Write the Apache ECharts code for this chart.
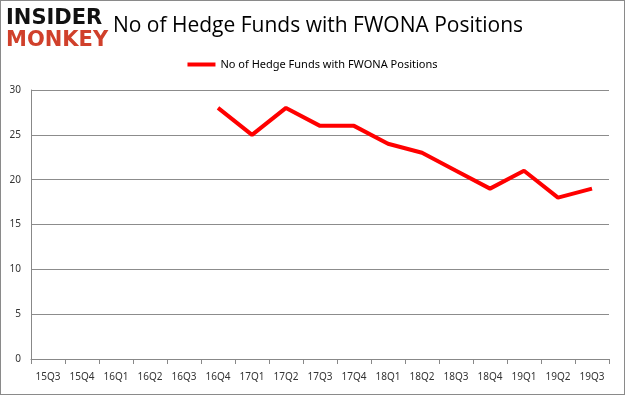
<!DOCTYPE html>
<html><head><meta charset="utf-8">
<script src="https://cdn.jsdelivr.net/npm/echarts@6/dist/echarts.min.js"></script>
<style>html,body{margin:0;padding:0;background:#fff}#c{width:625px;height:395px;box-sizing:border-box;border:1px solid #8a8a8a}</style>
</head><body><div id="c"></div>
<script>
const categories = ['15Q3','15Q4','16Q1','16Q2','16Q3','16Q4','17Q1','17Q2','17Q3','17Q4','18Q1','18Q2','18Q3','18Q4','19Q1','19Q2','19Q3'];
const hedgeFunds = [null,null,null,null,null,28,25,28,26,26,24,23,21,19,21,18,19];
const seriesName = 'No of Hedge Funds with FWONA Positions';
const titleText = 'No of Hedge Funds with FWONA Positions';

const chart = echarts.init(document.getElementById('c'), null, {renderer:'canvas'});
chart.setOption({
  animation:false,
  backgroundColor:'#fff',
  title:{text:titleText,left:312,top:10,textAlign:'center',z:1,
    textStyle:{fontFamily:'Open Sans',fontWeight:'normal',fontSize:21,color:'#000'}},
  legend:{top:53,left:'center',itemWidth:28,itemHeight:4,icon:'rect',
    textStyle:{fontFamily:'Noto Sans',fontSize:11,color:'#000'},
    data:[seriesName]},
  graphic:[
    {type:'rect',left:4,top:6,z:9,shape:{width:104,height:46},style:{fill:'#fff'}},
    {type:'text',left:5,top:7,z:10,style:{text:'INSIDER',font:'900 21px "DejaVu Sans"',fill:'#111'}},
    {type:'text',left:5,top:29,z:10,style:{text:'MONKEY',font:'900 21px "DejaVu Sans"',fill:'#d0402b'}}
  ],
  grid:{left:30,right:15,top:89,bottom:35,containLabel:false},
  xAxis:{type:'category',data:categories,boundaryGap:true,
    axisLine:{lineStyle:{color:'#888'}},
    axisTick:{show:true,alignWithLabel:false,lineStyle:{color:'#888'}},
    axisLabel:{fontFamily:'Noto Sans',fontSize:10,color:'#333',margin:13,interval:0}},
  yAxis:{type:'value',min:0,max:30,interval:5,
    axisLine:{show:true,lineStyle:{color:'#888'}},
    axisTick:{show:false},
    axisLabel:{fontFamily:'Noto Sans',fontSize:10,color:'#333',margin:10},
    splitLine:{lineStyle:{color:'#8c8c8c'}}},
  series:[{name:seriesName,type:'line',data:hedgeFunds,showSymbol:false,symbol:'none',
    connectNulls:false,lineStyle:{color:'#ff0000',width:4},itemStyle:{color:'#ff0000'}}]
});
</script></body></html>
